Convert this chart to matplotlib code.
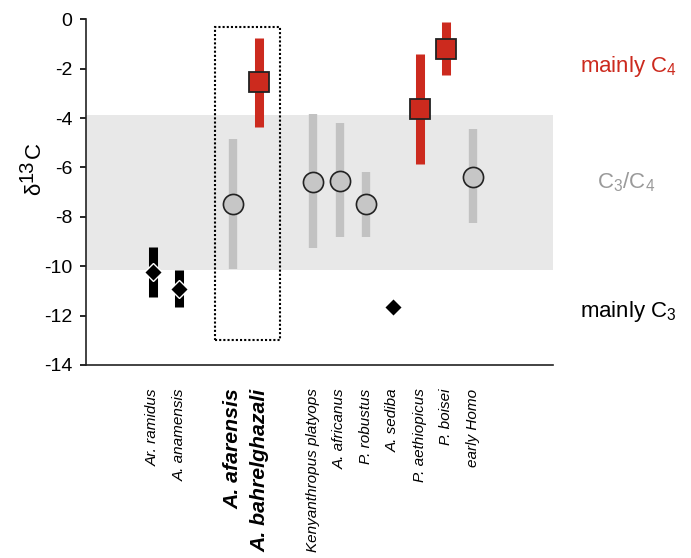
import matplotlib
matplotlib.use("Agg")
import matplotlib.pyplot as plt
import numpy as np
from matplotlib.patches import Rectangle

plt.rcParams['font.family'] = ['Liberation Sans', 'DejaVu Sans']
plt.rcParams['mathtext.fontset'] = 'custom'
plt.rcParams['mathtext.rm'] = 'Liberation Sans'
plt.rcParams['mathtext.it'] = 'Liberation Sans:italic'
plt.rcParams['axes.unicode_minus'] = False

# data
species = ['Ar. ramidus', 'A. anamensis', 'A. afarensis', 'A. bahrelghazali',
           'Kenyanthropus platyops', 'A. africanus', 'P. robustus', 'A. sediba',
           'P. aethiopicus', 'P. boisei', 'early Homo']
xpos = [1, 2, 4, 5, 7, 8, 9, 10, 11, 12, 13]
mean = [-10.22, -10.91, -7.49, -2.55, -6.57, -6.53, -7.49, -11.64, -3.64, -1.20, -6.37]
low = [-11.23, -11.66, -10.12, -4.35, -9.27, -8.83, -8.80, np.nan, -5.87, -2.26, -8.26]
high = [-9.21, -10.15, -4.86, -0.77, -3.85, -4.21, -6.19, np.nan, -1.40, -0.12, -4.45]
diet = ['C3', 'C3', 'mix', 'C4', 'mix', 'mix', 'mix', 'C3', 'C4', 'C4', 'mix']
bold = ['A. afarensis', 'A. bahrelghazali']

band = (-10.14, -3.86)
red = '#cc2a1e'
grey_bar = '#c2c2c2'

fig = plt.figure(figsize=(6.91, 5.58), dpi=100)
ax = fig.add_axes([0.1245, 0.3459, 0.6758, 0.6195])

ax.axhspan(band[0], band[1], color='#e8e8e8', lw=0, zorder=0)

for x, m, lo, hi, d in zip(xpos, mean, low, high, diet):
    if d == 'C3':
        if not np.isnan(lo):
            ax.vlines(x, lo, hi, color='black', lw=6.5, zorder=2)
        ax.plot(x, m, marker='D', ms=9.5, mfc='black', mec='white', mew=1, zorder=3)
    elif d == 'C4':
        ax.vlines(x, lo, hi, color=red, lw=6.5, zorder=2)
        ax.plot(x, m, marker='s', ms=14, mfc=red, mec='#222222', mew=1.3, zorder=3)
    else:
        ax.vlines(x, lo, hi, color=grey_bar, lw=6, zorder=2)
        ax.plot(x, m, marker='o', ms=14.5, mfc='#c6c6c6', mec='#222222', mew=1.2, zorder=3)

# dotted box round the two species in focus
ax.add_patch(Rectangle((3.35, -12.98), 2.41, 12.68, fill=False, ec='black',
                       lw=1.5, ls=(0, (1, 1)), zorder=4))

ax.set_xlim(-1.5, 16)
ax.set_ylim(-14, 0)
ax.set_yticks(np.arange(-14, 1, 2))
ax.tick_params(axis='y', labelsize=14, length=4, width=1.2, pad=6)
ax.set_xticks(xpos)
ax.set_xticklabels(species, rotation=90, fontstyle='italic', fontsize=11)
ax.tick_params(axis='x', length=0, pad=17)
for lab in ax.get_xticklabels():
    if lab.get_text() in bold:
        lab.set_fontsize(15.3)
        lab.set_fontweight('bold')

for s in ['top', 'right']:
    ax.spines[s].set_visible(False)
for s in ['left', 'bottom']:
    ax.spines[s].set_linewidth(1.2)
    ax.spines[s].set_color('#222222')

# y label: delta, raised 13, C
W, H = 691, 558
for txt, bx, by, fs in [('δ', 40, 195, 16), ('13', 33, 182, 14.5), ('C', 40, 158, 16)]:
    fig.text(bx / W, 1 - by / H, txt, fontsize=fs, rotation=90,
             rotation_mode='anchor', ha='left', va='baseline')

ax.text(17.0, -2.12, r'mainly C$_4$', color=red, fontsize=16, va='baseline', clip_on=False)
ax.text(17.65, -6.83, r'C$_3$/C$_4$', color='#9a9a9a', fontsize=16, va='baseline', clip_on=False)
ax.text(17.0, -12.05, r'mainly C$_3$', color='black', fontsize=16, va='baseline', clip_on=False)

fig.savefig('out.png', dpi=100)
